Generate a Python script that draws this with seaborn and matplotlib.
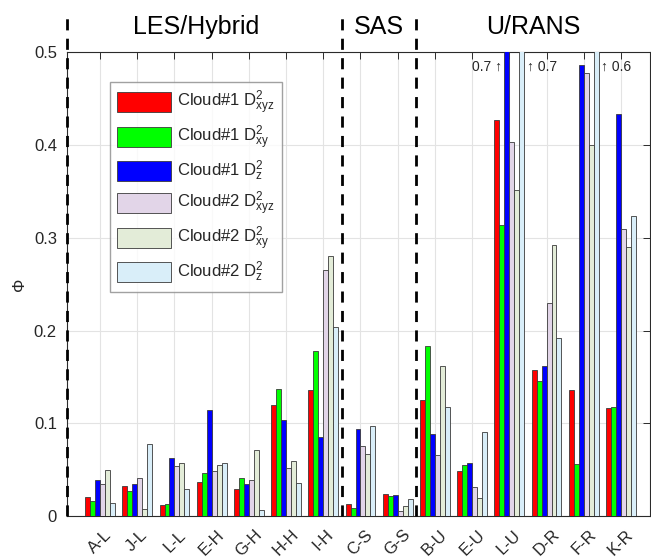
import numpy as np
import pandas as pd
import matplotlib
matplotlib.use("Agg")
import matplotlib.pyplot as plt
import seaborn as sns
from matplotlib.transforms import blended_transform_factory

# Cases (x axis) and the six dispersion measures per case
cases = ["A-L", "J-L", "L-L", "E-H", "G-H", "H-H", "I-H",
         "C-S", "G-S",
         "B-U", "E-U", "L-U", "D-R", "F-R", "K-R"]

c1_xyz = [0.021, 0.032, 0.012, 0.037, 0.029, 0.120, 0.136, 0.013, 0.024,
          0.125, 0.049, 0.427, 0.157, 0.136, 0.116]
c1_xy = [0.016, 0.027, 0.013, 0.046, 0.041, 0.137, 0.178, 0.009, 0.022,
         0.183, 0.055, 0.314, 0.146, 0.056, 0.118]
c1_z = [0.039, 0.034, 0.063, 0.114, 0.034, 0.104, 0.085, 0.094, 0.023,
        0.088, 0.057, 0.700, 0.162, 0.486, 0.434]
c2_xyz = [0.034, 0.041, 0.054, 0.049, 0.039, 0.052, 0.265, 0.076, 0.005,
          0.066, 0.031, 0.403, 0.230, 0.478, 0.310]
c2_xy = [0.050, 0.008, 0.057, 0.055, 0.071, 0.059, 0.280, 0.067, 0.011,
         0.162, 0.019, 0.351, 0.292, 0.400, 0.290]
c2_z = [0.014, 0.078, 0.029, 0.057, 0.007, 0.036, 0.204, 0.097, 0.018,
        0.117, 0.091, 0.700, 0.192, 0.600, 0.323]

series_labels = [r"Cloud#1 $\mathregular{D^2_{xyz}}$",
                 r"Cloud#1 $\mathregular{D^2_{xy}}$",
                 r"Cloud#1 $\mathregular{D^2_{z}}$",
                 r"Cloud#2 $\mathregular{D^2_{xyz}}$",
                 r"Cloud#2 $\mathregular{D^2_{xy}}$",
                 r"Cloud#2 $\mathregular{D^2_{z}}$"]
series_values = [c1_xyz, c1_xy, c1_z, c2_xyz, c2_xy, c2_z]
series_colors = ["#ff0000", "#00ff00", "#0000ff",
                 "#e2d5e8", "#e3ecd8", "#d9eef9"]

group_names = ["LES/Hybrid", "SAS", "U/RANS"]
y_ticks = [0, 0.1, 0.2, 0.3, 0.4, 0.5]
y_ticklabels = ["0", "0.1", "0.2", "0.3", "0.4", "0.5"]

# Values above the axis limit, labelled at the top of the plot
clipped_notes = [("0.7 \u2191", "L-U", 2, "right"),
                 ("\u2191 0.7", "L-U", 5, "left"),
                 ("\u2191 0.6", "F-R", 5, "left")]

df = pd.DataFrame({
    "case": [c for _ in series_labels for c in cases],
    "series": [s for s in series_labels for _ in cases],
    "phi": [v for vals in series_values for v in vals],
})

sns.set_style("white")
plt.rcParams["font.family"] = ["Liberation Sans", "DejaVu Sans"]
plt.rcParams["mathtext.fontset"] = "custom"
plt.rcParams["mathtext.rm"] = "Liberation Sans"

fig = plt.figure(figsize=(6.51, 5.59), dpi=100)
ax = fig.add_axes([66.7 / 651, (559 - 516) / 559,
                   (650 - 66.7) / 651, (516 - 52.3) / 559])

sns.barplot(data=df, x="case", y="phi", hue="series", order=cases,
            hue_order=series_labels, palette=series_colors, saturation=1,
            width=0.8, edgecolor="#3a3a3a", linewidth=0.6,
            errorbar=None, ax=ax, zorder=3)

ax.set_xlim(-0.895, 14.78)
ax.set_ylim(0, 0.5)
ax.set_yticks(y_ticks)
ax.set_yticklabels(y_ticklabels)
ax.set_xlabel("")
ax.set_ylabel("\u03a6", fontsize=12, rotation=90, color="#262626", labelpad=5)

ax.grid(True, color="#e3e3e3", linewidth=0.8, zorder=0)
ax.set_axisbelow(True)
for sp in ax.spines.values():
    sp.set_color("#2b2b2b")
    sp.set_linewidth(0.8)
    sp.set_visible(True)

ax.tick_params(axis="both", direction="in", length=5, width=0.7,
               color="#2b2b2b", top=True, right=True, labelsize=12,
               labelcolor="#262626")
ax.tick_params(axis="y", pad=7)
ax.tick_params(axis="x", pad=8, labelsize=12)
for lbl in ax.get_xticklabels():
    lbl.set_rotation(45)
    lbl.set_ha("center")

# Method family separators and headings
trans = blended_transform_factory(ax.transData, ax.transAxes)
for xs in [-0.895, 6.5, 8.5]:
    ax.plot([xs, xs], [0, 1.09], transform=trans, color="black",
            linestyle=(0, (4, 3)), linewidth=2, clip_on=False, zorder=5)
for name, xc in zip(group_names, [2.57, 7.5, 11.65]):
    ax.text(xc, 1.054, name, transform=trans, ha="center", va="center",
            fontsize=18, color="black")

# Labels for the clipped bars
n_series = len(series_labels)
bw = 0.8 / n_series
for text, case, si, side in clipped_notes:
    xc = cases.index(case) + (si - (n_series - 1) / 2) * bw
    xt = xc - bw / 2 - 0.07 if side == "right" else xc + bw / 2 + 0.07
    ax.text(xt, 0.484, text, ha=side, va="center", fontsize=10,
            color="#262626", family=["Liberation Sans", "DejaVu Sans"])

leg = ax.legend(loc="upper left", bbox_to_anchor=(0.074, 0.937),
                frameon=True, fontsize=12, handlelength=3.2,
                handleheight=1.5, labelspacing=0.4, borderpad=0.45,
                handletextpad=0.4, fancybox=False, borderaxespad=0)
leg.get_frame().set_edgecolor("#8a8a8a")
leg.get_frame().set_linewidth(1.0)
for t in leg.get_texts():
    t.set_color("#262626")

fig.savefig("out.png", dpi=100)
